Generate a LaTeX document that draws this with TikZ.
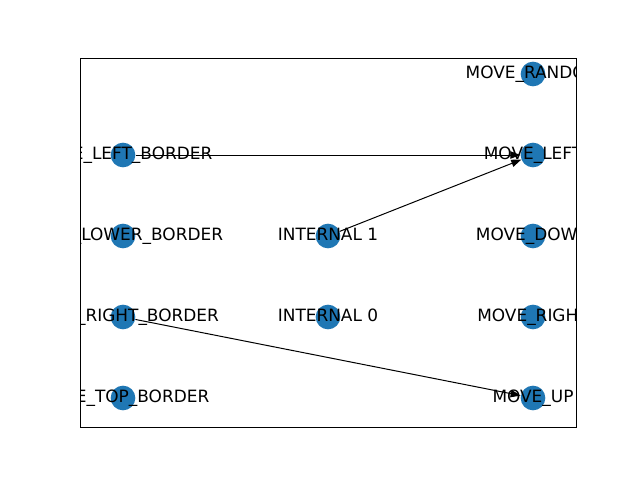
\documentclass[tikz,border=0pt]{standalone}
\usepackage{fontspec}
\setmainfont{DejaVu Sans}
\usetikzlibrary{arrows.meta}
\definecolor{nodeblue}{HTML}{1F77B4}
\begin{document}
\begin{tikzpicture}[x=0.75pt,y=-0.75pt,
  gnode/.style={circle,fill=nodeblue,draw=none,minimum size=18.5pt,inner sep=0pt},
  glabel/.style={font=\fontsize{12.7}{15}\selectfont,inner sep=0pt,anchor=center,text height=9.4pt,text depth=3.4pt},
  gedge/.style={draw=black,line width=0.75pt,-{Triangle[length=7.5pt,width=5.5pt]}},
  plain/.style={draw=black,line width=0.75pt}]
\useasboundingbox (0,0) rectangle (640,480);
\fill[white] (0,0) rectangle (640,480);
% nodes
\node[gnode] (lb) at (123,155) {};
\node[gnode] (lowb) at (123,236) {};
\node[gnode] (rb) at (123,317) {};
\node[gnode] (tb) at (123,398) {};
\node[gnode] (i1) at (328,236) {};
\node[gnode] (i0) at (328,317) {};
\node[gnode] (mr) at (533,74) {};
\node[gnode] (ml) at (533,155) {};
\node[gnode] (md) at (533,236) {};
\node[gnode] (mri) at (533,317) {};
\node[gnode] (mu) at (533,398) {};
% edges
\draw[gedge] (lb) -- (ml);
\draw[gedge] (i1) -- (ml);
\draw[gedge] (rb) -- (mu);
% labels clipped to axes
\begin{scope}
\clip (80,58) rectangle (576,427);
\node[glabel] (tlb) at (123,155) {MOVE\_LEFT\_BORDER};
\node[glabel] (tlowb) at (123,236) {MOVE\_LOWER\_BORDER};
\node[glabel] (trb) at (123,317) {MOVE\_RIGHT\_BORDER};
\node[glabel] (ttb) at (123,398) {MOVE\_TOP\_BORDER};
\node[glabel] (ti1) at (328,236) {INTERNAL 1};
\node[glabel] (ti0) at (328,317) {INTERNAL 0};
\node[glabel] (tmr) at (533,74) {MOVE\_RANDOM};
\node[glabel] (tml) at (533,155) {MOVE\_LEFT};
\node[glabel] (tmd) at (533,236) {MOVE\_DOWN};
\node[glabel] (tmri) at (533,317) {MOVE\_RIGHT};
\node[glabel] (tmu) at (533,398) {MOVE\_UP};
\end{scope}
% axes frame
\draw[plain] (80,58) rectangle (576,427);
\end{tikzpicture}
\end{document}
